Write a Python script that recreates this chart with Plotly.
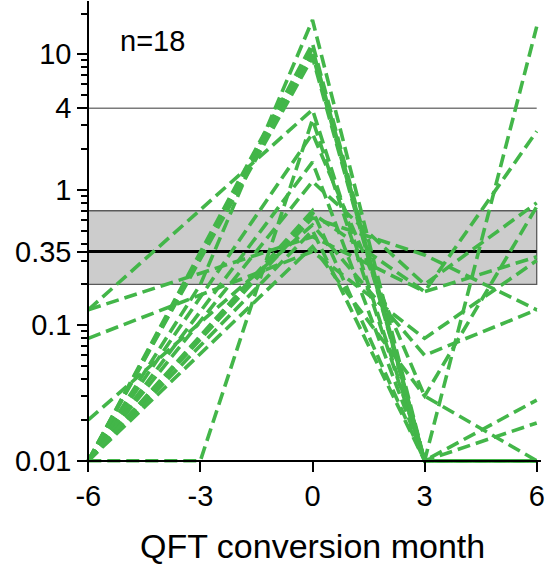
import plotly.graph_objects as go

# Sampling months relative to QFT conversion
months = [-6, -3, 0, 3, 6]

# Per-participant response values (None = not sampled at that month)
p01 = [0.01, 0.01, 3.3, 0.01, 0.01]
p02 = [0.13, None, 3.9, 0.01, 0.01]
p03 = [0.13, None, 0.45, 0.177, 0.32]
p04 = [0.08, None, 0.35, 0.08, 0.3]
p05 = [0.02, None, 0.55, 0.06, 0.13]
p06 = [0.01, 0.2, 17.9, 0.01, 16]
p07 = [0.01, None, 12, 0.01, 0.028]
p08 = [0.01, None, 11, 0.01, 0.019]
p09 = [0.01, None, 10, 0.01, 0.01]
p10 = [0.01, None, 2.6, 0.03, 0.01]
p11 = [0.01, None, 1.6, 0.01, 0.01]
p12 = [0.01, None, 1.15, 0.2, 0.8]
p13 = [0.01, None, 0.67, 0.177, 2.7]
p14 = [0.01, None, 0.5, 0.01, 0.01]
p15 = [0.01, None, 0.38, 0.03, 0.75]
p16 = [0.01, None, 0.62, 0.33, 0.13]
p17 = [0.01, None, 9.5, 0.01, 0.01]
p18 = [0.01, None, 0.7, 0.01, 0.01]
participants = [p01, p02, p03, p04, p05, p06, p07, p08, p09, p10,
                p11, p12, p13, p14, p15, p16, p17, p18]

# Reference levels
cutoff = 0.35
upper_line = 4
zone_low, zone_high = 0.2, 0.7

y_tickvals = [0.01, 0.1, 0.35, 1, 4, 10]
y_ticktext = ["0.01", "0.1", "0.35", "1", "4", "10"]
y_minor = [0.02, 0.03, 0.04, 0.05, 0.06, 0.07, 0.08, 0.09,
           0.2, 0.3, 0.4, 0.5, 0.6, 0.7, 0.8, 0.9,
           2, 3, 5, 6, 7, 8, 9, 20]
x_tickvals = [-6, -3, 0, 3, 6]
x_ticktext = ["-6", "-3", "0", "3", "6"]

GREEN = "#43b649"
FONT = "Liberation Sans, Arial, sans-serif"

fig = go.Figure()
for vals in participants:
    fig.add_trace(go.Scatter(
        x=months, y=vals, mode="lines", connectgaps=True,
        line=dict(color=GREEN, width=3.6, dash="13px,6px"),
        hoverinfo="skip", showlegend=False,
    ))

# Grey zone, cutoff line and upper reference line
fig.add_shape(type="rect", xref="x", yref="y", x0=-6, x1=6,
              y0=zone_low, y1=zone_high, fillcolor="#cccccc",
              line=dict(color="#5a5a5a", width=1.3), layer="below")
fig.add_shape(type="line", xref="x", yref="y", x0=-6, x1=6,
              y0=cutoff, y1=cutoff, line=dict(color="black", width=3.2),
              layer="below")
fig.add_shape(type="line", xref="x", yref="y", x0=-6, x1=6,
              y0=upper_line, y1=upper_line,
              line=dict(color="#7a7a7a", width=1.5), layer="below")

fig.add_annotation(x=-5.2, y=1.097, xref="x", yref="y",
                   text="n=18", showarrow=False, xanchor="left",
                   yanchor="middle", font=dict(family=FONT, size=29, color="black"))
fig.add_annotation(x=0, y=-0.178, xref="x", yref="paper",
                   text="QFT conversion month", showarrow=False,
                   xanchor="center", yanchor="middle",
                   font=dict(family=FONT, size=34, color="black"))

fig.update_layout(
    width=549, height=570,
    margin=dict(l=85, r=8, t=1, b=106),
    paper_bgcolor="white", plot_bgcolor="white",
    font=dict(family=FONT, color="black"),
    xaxis=dict(
        range=[-6.088, 6.115], anchor="free", position=0.00713,
        showgrid=False, zeroline=False, showline=True,
        linecolor="black", linewidth=2,
        ticks="outside", ticklen=10, tickwidth=2, tickcolor="black",
        tickmode="array", tickvals=x_tickvals, ticktext=x_ticktext,
        tickfont=dict(family=FONT, size=29, color="black"),
    ),
    yaxis=dict(
        type="log", range=[-2.0244, 1.3934], anchor="free", position=0.00724,
        showgrid=False, zeroline=False, showline=True,
        linecolor="black", linewidth=2,
        ticks="outside", ticklen=10, tickwidth=2, tickcolor="black",
        tickmode="array", tickvals=y_tickvals, ticktext=y_ticktext,
        tickfont=dict(family=FONT, size=29, color="black"),
        minor=dict(tickmode="array", tickvals=y_minor, ticks="outside",
                   ticklen=6, tickwidth=2, tickcolor="black"),
    ),
)

fig.write_html("out.html")
